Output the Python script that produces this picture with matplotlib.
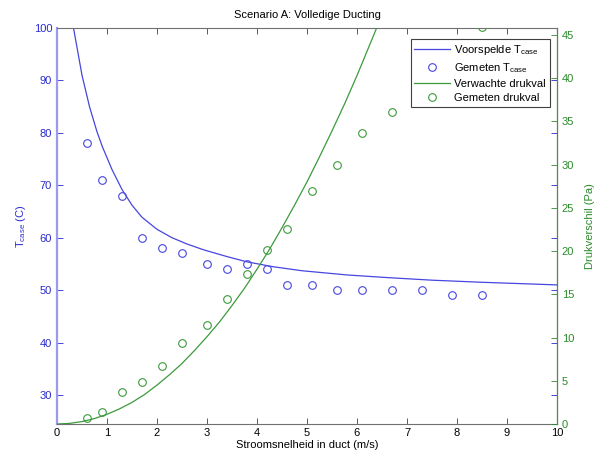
import numpy as np
import matplotlib
matplotlib.use("Agg")
import matplotlib.pyplot as plt

plt.rcParams.update({
    "font.family": ["Liberation Sans", "DejaVu Sans"],
    "font.size": 8,
    "xtick.direction": "in",
    "ytick.direction": "in",
})

BLUE = "#4646e0"
BLUE_TXT = "#2a2ad0"
GREEN = "#3c9a3c"
GREEN_TXT = "#2a8a2a"

# measured points
v_meas = [0.6, 0.9, 1.3, 1.7, 2.1, 2.5, 3.0, 3.4, 3.8, 4.2, 4.6, 5.1, 5.6, 6.1, 6.7, 7.3, 7.9, 8.5]
t_meas = [78, 71, 68, 60, 58, 57, 55, 54, 55, 54, 51, 51, 50, 50, 50, 50, 49, 49]
dp_meas = [0.7, 1.4, 3.7, 4.9, 6.7, 9.4, 11.4, 14.5, 17.4, 20.1, 22.5, 26.9, 30.0, 33.7, 36.1, 39.5, 42.5, 45.9]

# predicted case temperature
v_pred = [0.33, 0.5, 0.65, 0.8, 0.91, 1.1, 1.3, 1.5, 1.7, 2.0, 2.3, 2.6, 2.93,
          3.4, 3.8, 4.3, 4.9, 5.8, 6.6, 7.5, 8.5, 10.0]
t_pred = [100, 91.0, 85.0, 80.2, 77.3, 73.0, 69.2, 66.2, 63.9, 61.6, 60.0, 58.8, 57.7,
          56.4, 55.4, 54.5, 53.7, 52.9, 52.4, 51.9, 51.5, 51.0]

# expected pressure drop
v_exp = [0, 0.25, 0.5, 0.75, 1.0, 1.25, 1.5, 1.75, 2.0, 2.25, 2.5, 2.75, 3.0, 3.25, 3.5, 3.75,
         4.0, 4.25, 4.5, 4.75, 5.0, 5.25, 5.5, 5.75, 6.0, 6.25, 6.5, 6.75]
dp_exp = [0, 0.07, 0.28, 0.63, 1.12, 1.75, 2.5, 3.4, 4.5, 5.7, 7.0, 8.5, 10.1, 11.8, 13.7, 15.7,
          17.9, 20.2, 22.7, 25.3, 28.0, 30.9, 33.9, 37.0, 40.3, 43.8, 47.3, 51.0]

fig = plt.figure(figsize=(6.05, 4.54), dpi=100)
ax = fig.add_axes([57/605, 30/454, 500/605, 396/454])
ax2 = ax.twinx()

l1, = ax.plot(v_pred, t_pred, color=BLUE, lw=0.9)
p1, = ax.plot(v_meas, t_meas, "o", mfc="none", mec=BLUE, ms=5.5, mew=0.8)
l2, = ax2.plot(v_exp, dp_exp, color=GREEN, lw=0.9)
p2, = ax2.plot(v_meas, dp_meas, "o", mfc="none", mec=GREEN, ms=5.5, mew=0.8)

ax.set_xlim(0, 10)
ax.set_ylim(24.47, 100)
ax2.set_ylim(0, 45.8)
ax.set_xticks(range(0, 11))
ax.set_yticks(range(30, 101, 10))
ax2.set_yticks(range(0, 46, 5))

ax.tick_params(axis="x", top=True, length=4, width=0.6, color="#404040", pad=3)
ax.tick_params(axis="y", colors=BLUE_TXT, right=True, length=4, width=0.6)
ax2.tick_params(axis="y", colors=GREEN_TXT, length=4, width=0.6)

for s in ax.spines.values():
    s.set_linewidth(0.8)
ax.spines["left"].set_color("#9a9af0")
ax.spines["left"].set_linewidth(1.6)
ax.spines["bottom"].set_color("#707070")
ax.spines["top"].set_color("#707070")
ax2.spines["right"].set_color(GREEN)
ax2.spines["left"].set_visible(False)
ax2.spines["top"].set_visible(False)
ax2.spines["bottom"].set_visible(False)

ax.set_title("Scenario A: Volledige Ducting", fontsize=8, pad=7)
ax.set_xlabel("Stroomsnelheid in duct (m/s)", fontsize=8, labelpad=1)
ax.set_ylabel(r"$\mathregular{T_{case}}$ (C)", color=BLUE_TXT, fontsize=8, labelpad=4)
ax2.set_ylabel("Drukverschil (Pa)", color=GREEN_TXT, fontsize=8, labelpad=8)

leg = ax2.legend([l1, p1, l2, p2],
                 [r"Voorspelde $\mathregular{T_{case}}$", r"Gemeten $\mathregular{T_{case}}$",
                  "Verwachte drukval", "Gemeten drukval"],
                 loc="upper right", bbox_to_anchor=(0.997, 0.985), fontsize=8,
                 fancybox=False, framealpha=1, edgecolor="#404040",
                 handlelength=3.2, labelspacing=0.35, borderpad=0.35, handletextpad=0.4)
leg.get_frame().set_linewidth(0.8)

fig.savefig("out.png", dpi=100)
